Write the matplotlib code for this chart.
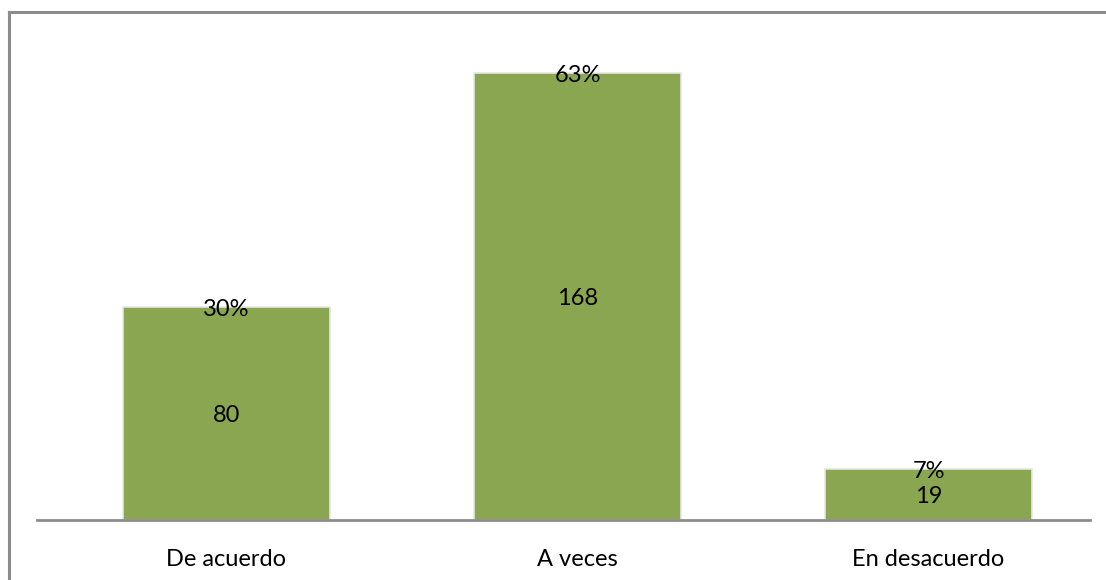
import matplotlib.pyplot as plt
import matplotlib.lines as mlines

categories = ['De acuerdo', 'A veces', 'En desacuerdo']
counts = [80, 168, 19]
percents = ['30%', '63%', '7%']

plt.rcParams['font.family'] = ['Lato', 'DejaVu Sans']

W, H = 1106, 580
fig = plt.figure(figsize=(W / 100, H / 100), dpi=100)

# outer chart frame (only top and left edges visible)
fig.add_artist(mlines.Line2D([8.5 / W, 8.5 / W], [0, 1 - 11.5 / H], color='#8c8c8c', lw=2.2))
fig.add_artist(mlines.Line2D([8.5 / W, 1], [1 - 11.5 / H, 1 - 11.5 / H], color='#8c8c8c', lw=2.2))

# plot area: x from 37 to 1090 px, baseline at y=520 px
ax = fig.add_axes([37 / W, (H - 520) / H, (1090 - 37) / W, 480 / H])
shift = 14 / 351
ax.set_xlim(-0.5 - shift, 2.5 - shift)
ax.set_ylim(0, 480 / 2.66)

x = range(len(categories))
ax.bar(x, counts, width=0.59, color='#8BA650', edgecolor='#e6e6e6', linewidth=1.2, zorder=2)

for i, (c, p) in enumerate(zip(counts, percents)):
    ax.text(i, c / 2, str(c), ha='center', va='center_baseline', fontsize=17, color='black', zorder=3)
    ax.text(i, c, p, ha='center', va='center_baseline', fontsize=17, color='black', zorder=3)

for s in ['top', 'right', 'left']:
    ax.spines[s].set_visible(False)
ax.spines['bottom'].set_color('#8c8c8c')
ax.spines['bottom'].set_linewidth(2)
ax.set_yticks([])
ax.set_xticks(list(x))
ax.set_xticklabels(categories, fontsize=17)
ax.tick_params(axis='x', length=0, pad=21)

fig.savefig('out.png', dpi=100)
